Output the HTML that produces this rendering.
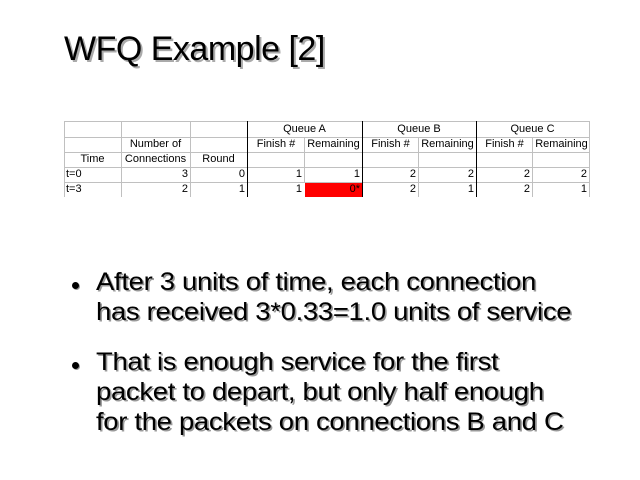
<!DOCTYPE html>
<html><head><style>
body{margin:0;width:640px;height:480px;background:#fff;position:relative;overflow:hidden;font-family:"Liberation Sans",sans-serif;}
.t{position:absolute;left:64px;top:30px;font-size:34px;color:#000;text-shadow:2px 2px 0 #aaa;white-space:nowrap;letter-spacing:-0.5px}
.b{position:absolute;left:96px;font-size:25px;line-height:30px;color:#000;text-shadow:1.5px 1.5px 0 #999;white-space:nowrap;letter-spacing:-0.3px;transform:scaleX(1.1);transform-origin:0 0}
.dot{position:absolute;left:72px;width:7px;height:7px;border-radius:50%;background:#000;box-shadow:1px 1px 0 #999}
.g{position:absolute;background:#c0c0c0}
.k{position:absolute;background:#000}
.c{position:absolute;font-size:11px;line-height:15px;height:15px;white-space:nowrap;color:#000}
</style></head><body>
<div class="t">WFQ Example [2]</div>

<div style="position:absolute;left:305px;top:182px;width:57px;height:15px;background:#f00"></div>
<div class="g" style="left:64px;top:121px;width:525px;height:1px"></div>
<div class="g" style="left:64px;top:137px;width:525px;height:1px"></div>
<div class="g" style="left:64px;top:152px;width:525px;height:1px"></div>
<div class="g" style="left:64px;top:167px;width:525px;height:1px"></div>
<div class="g" style="left:64px;top:182px;width:525px;height:1px"></div>
<div class="g" style="left:64px;top:121px;width:1px;height:76px"></div>
<div class="g" style="left:121px;top:121px;width:1px;height:76px"></div>
<div class="g" style="left:190px;top:121px;width:1px;height:76px"></div>
<div class="g" style="left:304px;top:137px;width:1px;height:45px"></div>
<div class="g" style="left:418px;top:137px;width:1px;height:60px"></div>
<div class="g" style="left:532px;top:137px;width:1px;height:60px"></div>
<div class="g" style="left:589px;top:121px;width:1px;height:76px"></div>
<div class="k" style="left:247px;top:121px;width:1px;height:76px"></div>
<div class="k" style="left:362px;top:121px;width:1px;height:76px"></div>
<div class="k" style="left:476px;top:121px;width:1px;height:76px"></div>

<div class="c" style="left:247px;top:122px;width:115px;text-align:center">Queue A</div>
<div class="c" style="left:362px;top:122px;width:114px;text-align:center">Queue B</div>
<div class="c" style="left:476px;top:122px;width:113px;text-align:center">Queue C</div>
<div class="c" style="left:121px;top:137px;width:69px;text-align:center">Number of</div>
<div class="c" style="left:248px;top:137px;width:56px;text-align:center">Finish #</div>
<div class="c" style="left:305px;top:137px;width:57px;text-align:center">Remaining</div>
<div class="c" style="left:363px;top:137px;width:55px;text-align:center">Finish #</div>
<div class="c" style="left:419px;top:137px;width:57px;text-align:center">Remaining</div>
<div class="c" style="left:477px;top:137px;width:55px;text-align:center">Finish #</div>
<div class="c" style="left:533px;top:137px;width:57px;text-align:center">Remaining</div>
<div class="c" style="left:64px;top:152px;width:57px;text-align:center">Time</div>
<div class="c" style="left:121px;top:152px;width:69px;text-align:center">Connections</div>
<div class="c" style="left:190px;top:152px;width:57px;text-align:center">Round</div>

<div class="c" style="left:66px;top:167px">t=0</div>
<div class="c" style="left:66px;top:182px">t=3</div>
<div class="c" style="left:121px;top:167px;width:67px;text-align:right">3</div>
<div class="c" style="left:190px;top:167px;width:55px;text-align:right">0</div>
<div class="c" style="left:247px;top:167px;width:55px;text-align:right">1</div>
<div class="c" style="left:304px;top:167px;width:56px;text-align:right">1</div>
<div class="c" style="left:362px;top:167px;width:54px;text-align:right">2</div>
<div class="c" style="left:418px;top:167px;width:56px;text-align:right">2</div>
<div class="c" style="left:476px;top:167px;width:54px;text-align:right">2</div>
<div class="c" style="left:532px;top:167px;width:55px;text-align:right">2</div>
<div class="c" style="left:121px;top:182px;width:67px;text-align:right">2</div>
<div class="c" style="left:190px;top:182px;width:55px;text-align:right">1</div>
<div class="c" style="left:247px;top:182px;width:55px;text-align:right">1</div>
<div class="c" style="left:304px;top:182px;width:56px;text-align:right">0*</div>
<div class="c" style="left:362px;top:182px;width:54px;text-align:right">2</div>
<div class="c" style="left:418px;top:182px;width:56px;text-align:right">1</div>
<div class="c" style="left:476px;top:182px;width:54px;text-align:right">2</div>
<div class="c" style="left:532px;top:182px;width:55px;text-align:right">1</div>

<div class="dot" style="top:282px"></div>
<div class="b" style="top:267px">After 3 units of time, each connection<br>has received 3*0.33=1.0 units of service</div>
<div class="dot" style="top:362px"></div>
<div class="b" style="top:347px">That is enough service for the first<br>packet to depart, but only half enough<br>for the packets on connections B and C</div>
</body></html>
